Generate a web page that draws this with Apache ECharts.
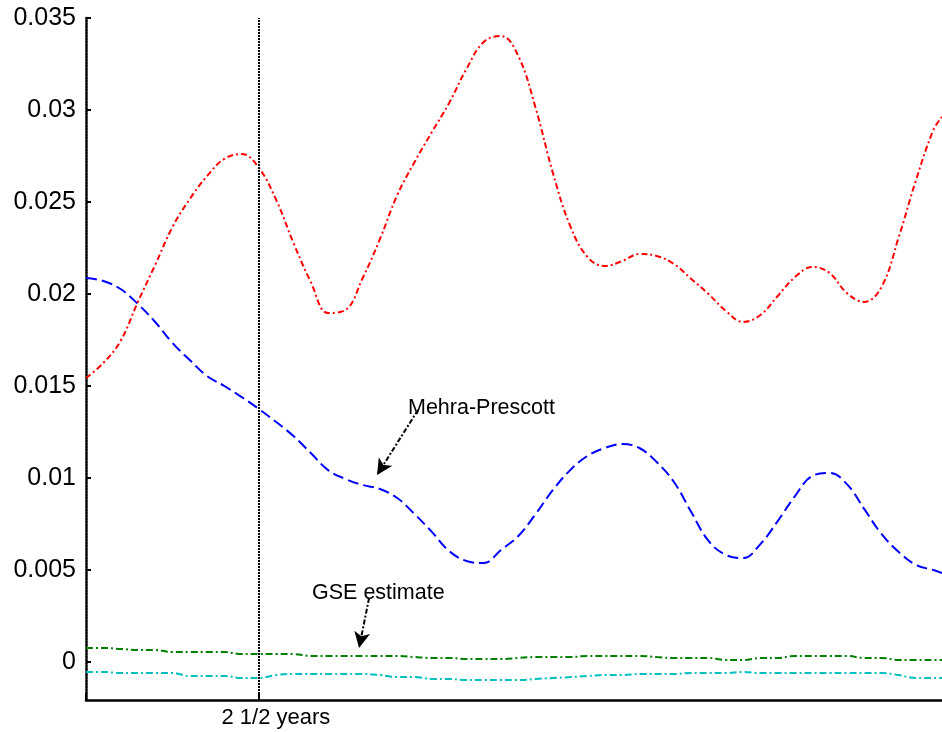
<!DOCTYPE html>
<html>
<head>
<meta charset="utf-8">
<script src="https://cdn.jsdelivr.net/npm/echarts@6/dist/echarts.min.js"></script>
<style>html,body{margin:0;padding:0;background:#fff}#c{width:942px;height:732px}</style>
</head>
<body>
<div id="c"></div>
<script>
// horizon in quarters (10 quarters = 2 1/2 years)
const quarters = [0,1,2,3,4,5,6,7,8,9,10,11,12,13,14,15,16,17,18,19,20,21,22,23,24,25,26,27,28,29,30,31,32,33,34,35,36,37,38,39,40,41,42,43,44,45,46,47,48,49,49.5];
const redSeries = [0.01543,0.01625,0.01745,0.01957,0.02158,0.02364,0.02516,0.02641,0.02734,0.02761,0.02685,0.02511,0.02277,0.02065,0.01897,0.01913,0.02087,0.02299,0.02538,0.02717,0.02880,0.03038,0.03223,0.03370,0.03402,0.03293,0.03011,0.02658,0.02370,0.02201,0.02152,0.02179,0.02217,0.02207,0.02163,0.02082,0.02000,0.01908,0.01848,0.01886,0.01989,0.02092,0.02147,0.02114,0.02005,0.01957,0.02038,0.02310,0.02620,0.02891,0.02962];
const blueSeries = [0.02087,0.02071,0.02027,0.01946,0.01848,0.01734,0.01641,0.01554,0.01500,0.01440,0.01375,0.01304,0.01228,0.01136,0.01043,0.00995,0.00962,0.00940,0.00891,0.00804,0.00707,0.00603,0.00549,0.00538,0.00609,0.00685,0.00804,0.00935,0.01043,0.01120,0.01163,0.01185,0.01163,0.01087,0.00978,0.00815,0.00658,0.00582,0.00565,0.00641,0.00766,0.00902,0.01011,0.01027,0.00967,0.00832,0.00696,0.00598,0.00527,0.00500,0.00484];
const greenSeries = [0.00076,0.00076,0.00071,0.00065,0.00065,0.00054,0.00054,0.00054,0.00054,0.00043,0.00043,0.00043,0.00043,0.00033,0.00033,0.00033,0.00033,0.00033,0.00033,0.00027,0.00022,0.00022,0.00016,0.00016,0.00016,0.00022,0.00027,0.00027,0.00027,0.00033,0.00033,0.00033,0.00033,0.00027,0.00022,0.00022,0.00022,0.00011,0.00011,0.00022,0.00022,0.00033,0.00033,0.00033,0.00033,0.00022,0.00022,0.00011,0.00011,0.00011,0.00011];
const cyanSeries = [-0.00054,-0.00054,-0.00060,-0.00060,-0.00060,-0.00060,-0.00076,-0.00076,-0.00076,-0.00087,-0.00087,-0.00071,-0.00065,-0.00065,-0.00065,-0.00065,-0.00065,-0.00071,-0.00082,-0.00082,-0.00092,-0.00092,-0.00098,-0.00098,-0.00098,-0.00098,-0.00092,-0.00087,-0.00082,-0.00076,-0.00071,-0.00071,-0.00065,-0.00065,-0.00065,-0.00060,-0.00060,-0.00060,-0.00054,-0.00060,-0.00060,-0.00060,-0.00060,-0.00060,-0.00060,-0.00060,-0.00060,-0.00071,-0.00087,-0.00087,-0.00087];
const yTicks = [0,0.005,0.01,0.015,0.02,0.025,0.03,0.035];
const yTickLabels = ['0','0.005','0.01','0.015','0.02','0.025','0.03','0.035'];
const xMarker = 10;
const xMarkerLabel = '2 1/2 years';
const mehraArrow = [[19.2,0.0137],[16.83,0.01016]];
const gseArrow = [[16.37,0.00348],[15.79,0.00076]];

const zip = (ys) => quarters.map((q,i)=>[q, ys[i]]);
const chart = echarts.init(document.getElementById('c'), null, {renderer:'canvas'});
const FONT = 'Liberation Sans, Arial, sans-serif';
const axisDot = {color:'#000', width:2.5, type:[2,1]};
function lineSeries(name, ys, color, dash){
  return {name, type:'line', data:zip(ys), showSymbol:false, smooth:0.4, animation:false,
    lineStyle:{color, width:2, type:dash}, z:3};
}
const red = lineSeries('red', redSeries, '#ff0000', [6,3,2,3]);
red.markLine = {silent:true, animation:false, symbol:['none','none'], label:{show:false},
  lineStyle:{color:'#000', width:2, type:[2,1]},
  data:[{xAxis:xMarker}]};
const blue = lineSeries('blue', blueSeries, '#0000ff', [11,5]);
blue.markLine = {silent:true, animation:false, symbol:['none','arrow'], symbolSize:[12,16], label:{show:false},
  lineStyle:{color:'#000', width:2, type:[5,2,2,2]},
  data:[
    [{coord:mehraArrow[0]},{coord:mehraArrow[1]}],
    [{coord:gseArrow[0]},{coord:gseArrow[1]}]
  ]};
const green = lineSeries('green', greenSeries, '#008000', [7,3,2,3]);
const cyan = lineSeries('cyan', cyanSeries, '#00bfbf', [7,3,2,3]);

chart.setOption({
  backgroundColor:'#fff',
  animation:false,
  grid:{left:86, right:0, top:18, bottom:32, containLabel:false},
  xAxis:{type:'value', min:0, max:49.5,
    axisLine:{show:true, onZero:false, lineStyle:axisDot},
    axisTick:{show:true, inside:true, length:7, customValues:[0, xMarker], lineStyle:{color:'#000', width:2}},
    axisLabel:{show:true, customValues:[xMarker], formatter:()=>xMarkerLabel, color:'#000', fontFamily:FONT, fontSize:22, margin:7, padding:[0,0,0,34]},
    splitLine:{show:false}},
  yAxis:{type:'value', min:-0.002065, max:0.035,
    axisLine:{show:true, onZero:false, lineStyle:axisDot},
    axisTick:{show:true, inside:true, length:5, customValues:yTicks, lineStyle:{color:'#000', width:2}},
    axisLabel:{show:true, customValues:yTicks, formatter:(v)=>{const i=yTicks.findIndex(t=>Math.abs(t-v)<1e-9); return i>=0?yTickLabels[i]:'';}, color:'#000', fontFamily:FONT, fontSize:25, margin:10},
    splitLine:{show:false}},
  graphic:[
    {type:'text', left:408, top:397, style:{text:'Mehra-Prescott', fill:'#000', font:'21.5px '+FONT}},
    {type:'text', left:312, top:582, style:{text:'GSE estimate', fill:'#000', font:'21.5px '+FONT}}
  ],
  series:[cyan, green, blue, red]
});
</script>
</body>
</html>
